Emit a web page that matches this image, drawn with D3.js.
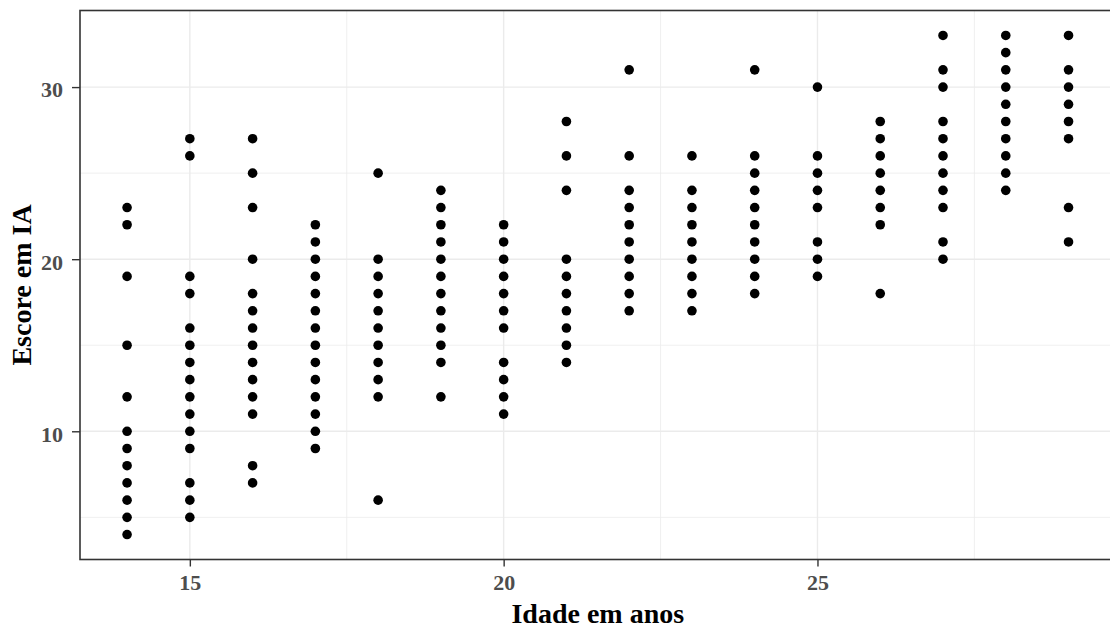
<!DOCTYPE html>
<html>
<head>
<meta charset="utf-8">
<script src="https://cdn.jsdelivr.net/npm/d3@7"></script>
<style>
  body { margin: 0; background: #fff; }
  svg { display: block; }
  .tick text { font-family: "Liberation Serif", "DejaVu Serif", serif; font-weight: bold; }
</style>
</head>
<body>
<div id="chart"></div>
<script>
"use strict";

/* Data: one array of scores per age */
const AGES = [14, 15, 16, 17, 18, 19, 20, 21, 22, 23, 24, 25, 26, 27, 28, 29];
const SCORES = [
  [23, 22, 19, 15, 12, 10, 9, 8, 7, 6, 5, 4],
  [27, 26, 19, 18, 16, 15, 14, 13, 12, 11, 10, 9, 7, 6, 5],
  [27, 25, 23, 20, 18, 17, 16, 15, 14, 13, 12, 11, 8, 7],
  [22, 21, 20, 19, 18, 17, 16, 15, 14, 13, 12, 11, 10, 9],
  [25, 20, 19, 18, 17, 16, 15, 14, 13, 12, 6],
  [24, 23, 22, 21, 20, 19, 18, 17, 16, 15, 14, 12],
  [22, 21, 20, 19, 18, 17, 16, 14, 13, 12, 11],
  [28, 26, 24, 20, 19, 18, 17, 16, 15, 14],
  [31, 26, 24, 23, 22, 21, 20, 19, 18, 17],
  [26, 24, 23, 22, 21, 20, 19, 18, 17],
  [31, 26, 25, 24, 23, 22, 21, 20, 19, 18],
  [30, 26, 25, 24, 23, 21, 20, 19],
  [28, 27, 26, 25, 24, 23, 22, 18],
  [33, 31, 30, 28, 27, 26, 25, 24, 23, 21, 20],
  [33, 32, 31, 30, 29, 28, 27, 26, 25, 24],
  [33, 31, 30, 29, 28, 27, 23, 21]
];
const X_TICKS = [15, 20, 25];
const X_MINOR = [17.5, 22.5, 27.5];
const Y_TICKS = [10, 20, 30];
const Y_MINOR = [5, 15, 25];
const X_LABEL = "Idade em anos";
const Y_LABEL = "Escore em IA";

// flatten into points
const POINTS = [];
AGES.forEach((age, i) => {
  for (let s of SCORES[i]) POINTS.push({ age: age, score: s });
});

const width = 1110, height = 630;
// panel runs a bit past the right edge of the picture (cropped in the original)
const panel = { left: 80, right: 1115.6, top: 10.5, bottom: 559.5 };

const svg = d3.select("#chart")
  .append("svg")
  .attr("width", width)
  .attr("height", height);

// ggplot-like expanded ranges (5% each side)
const x = d3.scaleLinear()
  .domain([13.25, 29.75])
  .range([panel.left, panel.right]);

const y = d3.scaleLinear()
  .domain([2.55, 34.45])
  .range([panel.bottom, panel.top]);

/* Grid lines: minor first, then major */
const grid = svg.append("g");

function vLines(vals, w) {
  grid.selectAll(null)
    .data(vals)
    .enter()
    .append("line")
    .attr("x1", d => x(d)).attr("x2", d => x(d))
    .attr("y1", panel.top).attr("y2", panel.bottom)
    .attr("stroke", "#ebebeb").attr("stroke-width", w);
}
function hLines(vals, w) {
  grid.selectAll(null)
    .data(vals)
    .enter()
    .append("line")
    .attr("x1", panel.left).attr("x2", panel.right)
    .attr("y1", d => y(d)).attr("y2", d => y(d))
    .attr("stroke", "#ebebeb").attr("stroke-width", w);
}
vLines(X_MINOR, 0.8);
hLines(Y_MINOR, 0.8);
vLines(X_TICKS, 1.4);
hLines(Y_TICKS, 1.4);

/* Points */
svg.append("g")
  .selectAll("circle")
  .data(POINTS)
  .enter()
  .append("circle")
  .attr("cx", d => x(d.age))
  .attr("cy", d => y(d.score))
  .attr("r", 4.8)
  .attr("fill", "#000");

/* Panel border */
svg.append("rect")
  .attr("x", panel.left)
  .attr("y", panel.top)
  .attr("width", panel.right - panel.left)
  .attr("height", panel.bottom - panel.top)
  .attr("fill", "none")
  .attr("stroke", "#333333")
  .attr("stroke-width", 1.6);

/* Axes */
const xAxis = svg.append("g")
  .attr("transform", `translate(0,${panel.bottom})`)
  .call(d3.axisBottom(x).tickValues(X_TICKS).tickSize(7).tickPadding(8));

const yAxis = svg.append("g")
  .attr("transform", `translate(${panel.left},0)`)
  .call(d3.axisLeft(y).tickValues(Y_TICKS).tickSize(8).tickPadding(9));

for (let ax of [xAxis, yAxis]) {
  ax.select(".domain").remove();
  ax.selectAll(".tick line").attr("stroke", "#333333").attr("stroke-width", 1.4);
  ax.selectAll(".tick text")
    .attr("fill", "#4d4d4d")
    .style("font-size", "22px");
}
yAxis.selectAll(".tick text").attr("dy", "0.45em");

/* Axis titles */
svg.append("text")
  .attr("x", (panel.left + panel.right) / 2)
  .attr("y", 623)
  .attr("text-anchor", "middle")
  .style("font-family", '"Liberation Serif", "DejaVu Serif", serif')
  .style("font-weight", "bold")
  .style("font-size", "28px")
  .attr("fill", "#000")
  .text(X_LABEL);

svg.append("text")
  .attr("transform", `translate(31,${(panel.top + panel.bottom) / 2}) rotate(-90)`)
  .attr("text-anchor", "middle")
  .style("font-family", '"Liberation Serif", "DejaVu Serif", serif')
  .style("font-weight", "bold")
  .style("font-size", "28px")
  .attr("fill", "#000")
  .text(Y_LABEL);
</script>
</body>
</html>
